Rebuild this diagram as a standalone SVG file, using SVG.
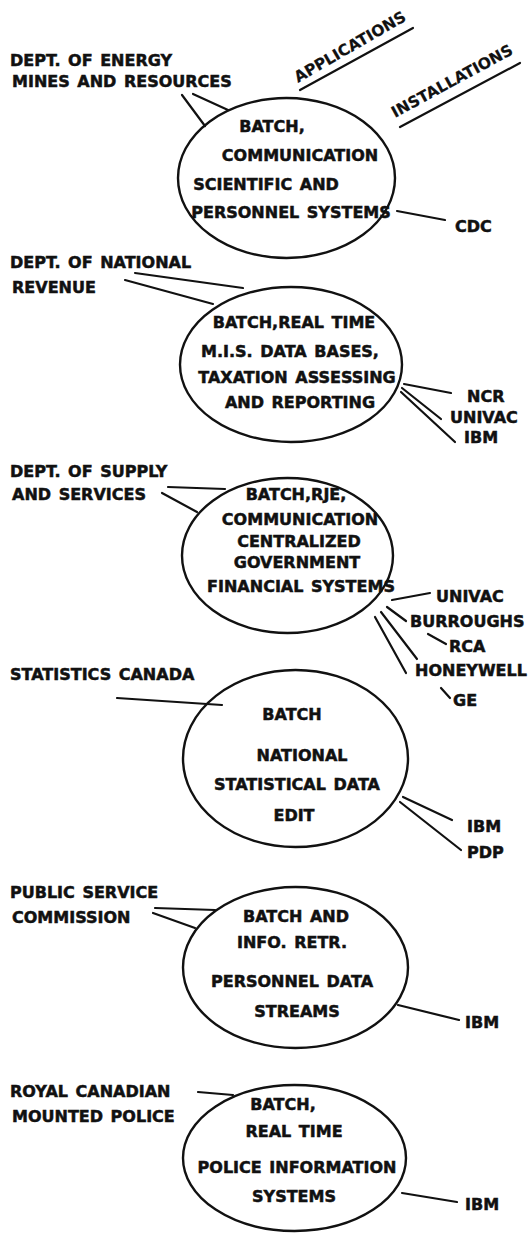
<svg xmlns="http://www.w3.org/2000/svg" width="529" height="1258" viewBox="0 0 529 1258">
<style>
text { font-family: "DejaVu Sans", "Liberation Sans", sans-serif; font-weight: bold; font-size: 16px; fill: #111; stroke: #111; stroke-width: 0.5px; word-spacing: 2px; }
.c { text-anchor: middle; }
.h { font-size: 15.5px; stroke-width: 0.2px; }
ellipse { fill: none; stroke: #111; stroke-width: 2.4; }
line { stroke: #111; stroke-width: 2.2; stroke-linecap: round; }
</style>
<rect width="529" height="1258" fill="#fff"/>

<g id="headers">
  <text class="h" transform="translate(298,83) rotate(-30)">APPLICATIONS</text>
  <line x1="300" y1="90" x2="413" y2="28"/>
  <text class="h" transform="translate(395,118) rotate(-28.5)">INSTALLATIONS</text>
  <line x1="400" y1="127" x2="520" y2="63"/>
</g>

<g id="connectors">
  <line x1="182" y1="95" x2="205" y2="126"/>
  <line x1="193" y1="94" x2="228" y2="110"/>
  <line x1="397" y1="211" x2="445" y2="220"/>

  <line x1="135" y1="273" x2="243" y2="288"/>
  <line x1="125" y1="280" x2="213" y2="304"/>
  <line x1="404" y1="384" x2="451" y2="393"/>
  <line x1="402" y1="388" x2="441" y2="419"/>
  <line x1="401" y1="392" x2="455" y2="442"/>

  <line x1="168" y1="487" x2="225" y2="489"/>
  <line x1="162" y1="493" x2="197" y2="512"/>
  <line x1="392" y1="600" x2="430" y2="593"/>
  <line x1="387" y1="607" x2="406" y2="621"/>
  <line x1="381" y1="612" x2="417" y2="659"/>
  <line x1="375" y1="617" x2="406" y2="673"/>
  <line x1="428" y1="634" x2="446" y2="644"/>
  <line x1="441" y1="688" x2="450" y2="698"/>

  <line x1="117" y1="698" x2="222" y2="705"/>
  <line x1="403" y1="797" x2="452" y2="820"/>
  <line x1="400" y1="802" x2="461" y2="850"/>

  <line x1="155" y1="908" x2="215" y2="910"/>
  <line x1="153" y1="913" x2="195" y2="928"/>
  <line x1="398" y1="1005" x2="459" y2="1020"/>

  <line x1="198" y1="1092" x2="233" y2="1095"/>
  <line x1="402" y1="1193" x2="457" y2="1202"/>
</g>

<g id="node-energy">
  <text x="10" y="66">DEPT. OF ENERGY</text>
  <text x="12" y="87">MINES AND RESOURCES</text>
  <ellipse cx="286.5" cy="178" rx="108.5" ry="80"/>
  <text class="c" x="272" y="132">BATCH,</text>
  <text class="c" x="300" y="161">COMMUNICATION</text>
  <text class="c" x="266" y="190">SCIENTIFIC AND</text>
  <text class="c" x="291" y="218">PERSONNEL SYSTEMS</text>
  <text x="455" y="232">CDC</text>
</g>

<g id="node-revenue">
  <text x="10" y="268">DEPT. OF NATIONAL</text>
  <text x="12" y="293">REVENUE</text>
  <ellipse cx="291" cy="364.5" rx="111" ry="77.5"/>
  <text class="c" x="294" y="328">BATCH,REAL TIME</text>
  <text class="c" x="290" y="357">M.I.S. DATA BASES,</text>
  <text class="c" x="297" y="383">TAXATION ASSESSING</text>
  <text class="c" x="300" y="408">AND REPORTING</text>
  <text x="467" y="402">NCR</text>
  <text x="450" y="423">UNIVAC</text>
  <text x="464" y="443">IBM</text>
</g>

<g id="node-supply">
  <text x="10" y="477">DEPT. OF SUPPLY</text>
  <text x="12" y="500">AND SERVICES</text>
  <ellipse cx="287.5" cy="555.5" rx="105.5" ry="77.5"/>
  <text class="c" x="296" y="500">BATCH,RJE,</text>
  <text class="c" x="300" y="525">COMMUNICATION</text>
  <text class="c" x="299" y="547">CENTRALIZED</text>
  <text class="c" x="297" y="568">GOVERNMENT</text>
  <text class="c" x="301" y="592">FINANCIAL SYSTEMS</text>
  <text x="436" y="602">UNIVAC</text>
  <text x="410" y="627">BURROUGHS</text>
  <text x="449" y="652">RCA</text>
  <text x="415" y="676">HONEYWELL</text>
  <text x="453" y="706">GE</text>
</g>

<g id="node-statistics">
  <text x="10" y="680">STATISTICS CANADA</text>
  <ellipse cx="295.5" cy="758.5" rx="112.5" ry="88.5"/>
  <text class="c" x="292" y="720">BATCH</text>
  <text class="c" x="302" y="761">NATIONAL</text>
  <text class="c" x="297" y="790">STATISTICAL DATA</text>
  <text class="c" x="294" y="821">EDIT</text>
  <text x="467" y="832">IBM</text>
  <text x="467" y="858">PDP</text>
</g>

<g id="node-psc">
  <text x="10" y="898">PUBLIC SERVICE</text>
  <text x="12" y="923">COMMISSION</text>
  <ellipse cx="295.5" cy="967.5" rx="112.5" ry="80.5"/>
  <text class="c" x="296" y="922">BATCH AND</text>
  <text class="c" x="292" y="948">INFO. RETR.</text>
  <text class="c" x="292" y="987">PERSONNEL DATA</text>
  <text class="c" x="297" y="1017">STREAMS</text>
  <text x="465" y="1028">IBM</text>
</g>

<g id="node-rcmp">
  <text x="10" y="1097">ROYAL CANADIAN</text>
  <text x="12" y="1122">MOUNTED POLICE</text>
  <ellipse cx="294.5" cy="1158" rx="111.5" ry="73"/>
  <text class="c" x="283" y="1110">BATCH,</text>
  <text class="c" x="294" y="1137">REAL TIME</text>
  <text class="c" x="297" y="1173">POLICE INFORMATION</text>
  <text class="c" x="294" y="1202">SYSTEMS</text>
  <text x="465" y="1210">IBM</text>
</g>
</svg>
